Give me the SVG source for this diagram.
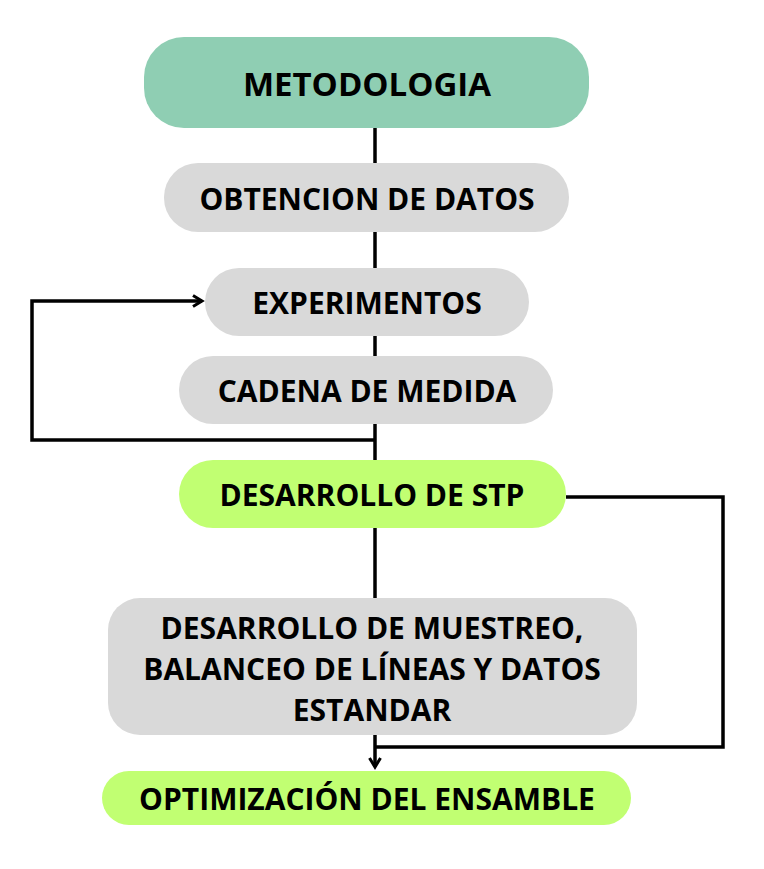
<svg xmlns="http://www.w3.org/2000/svg" width="764" height="869" viewBox="0 0 764 869">
<defs>
<style>
.t{font-family:"Open Sans","Liberation Sans",sans-serif;font-weight:bold;fill:#000;text-anchor:middle;dominant-baseline:central;font-size:30px}
.c{stroke:#000;stroke-width:3.5;fill:none}
.g{fill:#d9d9d9}
.l{fill:#c1ff72}
</style>
<marker id="ah" viewBox="0 0 14 14" refX="11" refY="7" markerWidth="14" markerHeight="14" markerUnits="userSpaceOnUse" orient="auto">
<path d="M2,1.5 L11,7 L2,12.5" fill="none" stroke="#000" stroke-width="3"/>
</marker>
</defs>
<rect width="764" height="869" fill="#fff"/>
<g id="connectors">
<path class="c" d="M375,128 V767" marker-end="url(#ah)"/>
<path class="c" d="M375,440 H32 V301 H202" marker-end="url(#ah)"/>
<path class="c" d="M566,497 H723 V747 H376"/>
</g>
<g id="metodologia">
<rect x="144" y="37" width="445" height="91" rx="40" fill="#8fceb3"/>
<text class="t" x="367" y="83" style="font-size:33px">METODOLOGIA</text>
</g>
<g id="obtencion">
<rect class="g" x="164" y="163" width="405" height="69" rx="34"/>
<text class="t" x="367" y="198">OBTENCION DE DATOS</text>
</g>
<g id="experimentos">
<rect class="g" x="205" y="268" width="324" height="68" rx="34"/>
<text class="t" x="367" y="302">EXPERIMENTOS</text>
</g>
<g id="cadena">
<rect class="g" x="179" y="356" width="374" height="68" rx="34"/>
<text class="t" x="367" y="390">CADENA DE MEDIDA</text>
</g>
<g id="stp">
<rect class="l" x="179" y="460" width="387" height="68" rx="34"/>
<text class="t" x="372" y="494">DESARROLLO DE STP</text>
</g>
<g id="muestreo">
<rect class="g" x="108" y="598" width="529" height="137" rx="32"/>
<text class="t" x="372" y="627">DESARROLLO DE MUESTREO,</text>
<text class="t" x="372" y="668">BALANCEO DE LÍNEAS Y DATOS</text>
<text class="t" x="372" y="709">ESTANDAR</text>
</g>
<g id="optimizacion">
<rect class="l" x="102" y="771" width="529" height="54" rx="27"/>
<text class="t" x="367" y="798">OPTIMIZACIÓN DEL ENSAMBLE</text>
</g>
</svg>
